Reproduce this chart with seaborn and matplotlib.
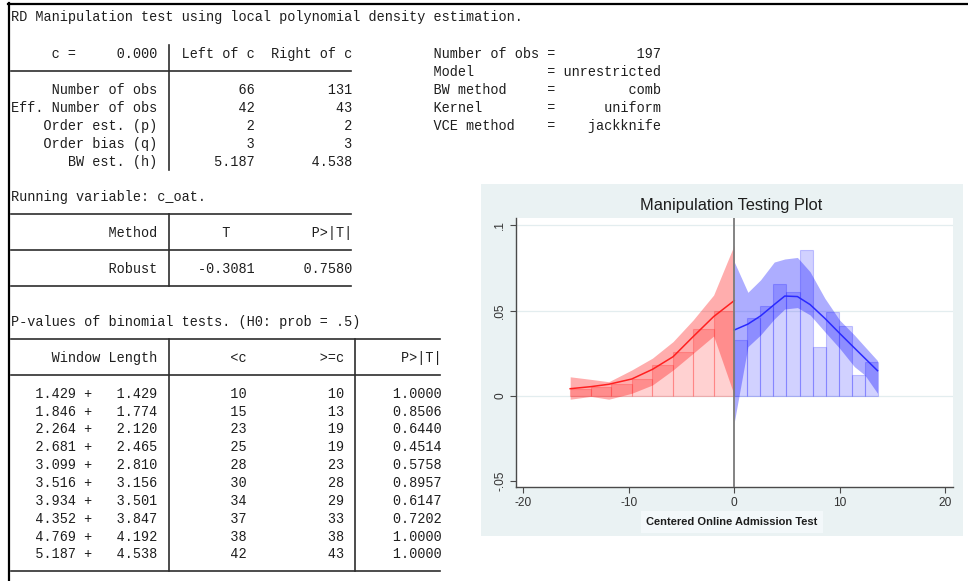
import matplotlib
matplotlib.use("Agg")
import matplotlib.pyplot as plt
from matplotlib.lines import Line2D
from matplotlib.patches import Rectangle
import seaborn as sns

# ---------------- rddensity summary ----------------
cutoff = 0.000
obs_left, obs_right = 66, 131
eff_left, eff_right = 42, 43
order_p = (2, 2)
order_q = (3, 3)
bw_h = (5.187, 4.538)
n_total = 197
model_name = "unrestricted"
bw_method = "comb"
kernel_name = "uniform"
vce_method = "jackknife"
running_var = "c_oat"
robust_T = -0.3081
robust_p = 0.7580

# binomial tests by window
win_left = [1.429, 1.846, 2.264, 2.681, 3.099, 3.516, 3.934, 4.352, 4.769, 5.187]
win_right = [1.429, 1.774, 2.120, 2.465, 2.810, 3.156, 3.501, 3.847, 4.192, 4.538]
n_below = [10, 15, 23, 25, 28, 30, 34, 37, 38, 42]
n_above = [10, 13, 19, 19, 23, 28, 29, 33, 38, 43]
binom_p = [1.0000, 0.8506, 0.6440, 0.4514, 0.5758, 0.8957, 0.6147, 0.7202, 1.0000, 1.0000]

# ---------------- density plot data ----------------
hist_left_edges = [-15.56, -13.61, -11.67, -9.72, -7.78, -5.83, -3.89, -1.94, 0.0]
hist_left_heights = [0.0039, 0.0052, 0.0068, 0.0097, 0.0179, 0.0258, 0.0389, 0.0499]
hist_right_edges = [0.0, 1.24, 2.48, 3.72, 4.96, 6.20, 7.44, 8.68, 9.92, 11.16, 12.40, 13.64]
hist_right_heights = [0.0326, 0.0454, 0.0526, 0.0654, 0.0610, 0.0857, 0.0286,
                      0.0492, 0.0406, 0.0121, 0.0196]

dens_left_x = [-15.56, -13.6, -11.9, -9.72, -7.75, -5.8, -3.9, -1.95, 0.0]
dens_left_f = [0.0040, 0.0052, 0.0066, 0.0097, 0.0154, 0.0228, 0.0346, 0.0464, 0.0558]
dens_left_hi = [0.0110, 0.0095, 0.0081, 0.0150, 0.0220, 0.0317, 0.0444, 0.0591, 0.0885]
dens_left_lo = [-0.0022, -0.0005, -0.0022, 0.0013, 0.0062, 0.0150, 0.0248, 0.0350, 0.0003]

dens_right_x = [0.0, 1.3, 2.5, 3.8, 4.8, 6.0, 7.2, 8.6, 10.0, 11.4, 12.4, 13.6]
dens_right_f = [0.0385, 0.0420, 0.0468, 0.0535, 0.0585, 0.0582, 0.0535, 0.0454,
                0.0366, 0.0280, 0.0219, 0.0146]
dens_right_hi = [0.0787, 0.0607, 0.0680, 0.0785, 0.0803, 0.0812, 0.0728, 0.0572,
                 0.0444, 0.0356, 0.0287, 0.0205]
dens_right_lo = [-0.0160, 0.0287, 0.0356, 0.0450, 0.0509, 0.0517, 0.0474, 0.0375,
                 0.0278, 0.0170, 0.0120, 0.0013]

x_ticks = [-20, -10, 0, 10, 20]
y_ticks = [-0.05, 0.0, 0.05, 0.1]
y_tick_labels = ["-.05", "0", ".05", ".1"]

# ---------------- figure ----------------
W, H = 968, 581
fig = plt.figure(figsize=(W / 100, H / 100), dpi=100)
fig.patch.set_facecolor("white")


def fx(px):
    return px / W


def fy(py):
    return 1 - py / H


MONO = "Liberation Mono"
FS = 9.72          # 8.1 px per character cell
X0, CW = 11.0, 8.1
Y0, DY = 54.0, 17.86
TXT = "#1e1e1e"
RULE = "#2e2e2e"


def row_y(r):
    return Y0 + r * DY


def col_x(c):
    return X0 + c * CW


def put_row(r, items, y=None):
    buf = [" "] * 90
    for col, s, align in items:
        start = col if align == "l" else col - len(s)
        for i, ch in enumerate(s):
            buf[start + i] = ch
    yc = row_y(r) if y is None else y
    fig.text(fx(X0), fy(yc + 4.4), "".join(buf).rstrip(), family=MONO,
             fontsize=FS, color=TXT, ha="left", va="baseline")


def hrule(r, c0, c1):
    y = row_y(r) - 0.5
    fig.add_artist(Line2D([fx(col_x(c0)), fx(col_x(c1))], [fy(y), fy(y)],
                          transform=fig.transFigure, color=RULE, lw=1.2))


def vrule(c, y_top, y_bot):
    x = col_x(c + 0.5)
    fig.add_artist(Line2D([fx(x), fx(x)], [fy(y_top), fy(y_bot)],
                          transform=fig.transFigure, color=RULE, lw=1.2))


# window frame
fig.add_artist(Line2D([fx(8), fx(968)], [fy(3.5), fy(3.5)], transform=fig.transFigure,
                      color="black", lw=1.6))
fig.add_artist(Line2D([fx(8.5), fx(8.5)], [fy(3), fy(581)], transform=fig.transFigure,
                      color="black", lw=1.6))

# heading
put_row(0, [(0, "RD Manipulation test using local polynomial density estimation.", "l")], y=17)

# summary table
put_row(0, [(18, f"{'c =':>8}{cutoff:10.3f}", "r"), (21, "Left of c", "l"),
            (42, "Right of c", "r"), (52, "Number of obs =", "l"), (80, str(n_total), "r")])
put_row(1, [(52, "Model", "l"), (66, "=", "l"), (80, model_name, "r")])
put_row(2, [(18, "Number of obs", "r"), (30, str(obs_left), "r"), (42, str(obs_right), "r"),
            (52, "BW method", "l"), (66, "=", "l"), (80, bw_method, "r")])
put_row(3, [(18, "Eff. Number of obs", "r"), (30, str(eff_left), "r"), (42, str(eff_right), "r"),
            (52, "Kernel", "l"), (66, "=", "l"), (80, kernel_name, "r")])
put_row(4, [(18, "Order est. (p)", "r"), (30, str(order_p[0]), "r"), (42, str(order_p[1]), "r"),
            (52, "VCE method", "l"), (66, "=", "l"), (80, vce_method, "r")])
put_row(5, [(18, "Order bias (q)", "r"), (30, str(order_q[0]), "r"), (42, str(order_q[1]), "r")])
put_row(6, [(18, "BW est. (h)", "r"), (30, f"{bw_h[0]:.3f}", "r"), (42, f"{bw_h[1]:.3f}", "r")])
hrule(1, 0, 42)
vrule(19, row_y(0) - DY / 2, row_y(6) + DY / 2)

# test statistic table
put_row(8, [(0, f"Running variable: {running_var}.", "l")])
put_row(10, [(18, "Method", "r"), (26, "T", "l"), (42, "P>|T|", "r")])
put_row(12, [(18, "Robust", "r"), (30, f"{robust_T:.4f}", "r"), (42, f"{robust_p:.4f}", "r")])
for r in (9, 11, 13):
    hrule(r, 0, 42)
vrule(19, row_y(9) - 0.5, row_y(13) - 0.5)

# binomial tests table
put_row(15, [(0, "P-values of binomial tests. (H0: prob = .5)", "l")])
put_row(17, [(18, "Window Length", "r"), (27, "<c", "l"), (41, ">=c", "r"), (53, "P>|T|", "r")])
for i in range(len(win_left)):
    put_row(19 + i, [(3, f"{win_left[i]:.3f} +", "l"), (18, f"{win_right[i]:.3f}", "r"),
                     (29, str(n_below[i]), "r"), (41, str(n_above[i]), "r"),
                     (53, f"{binom_p[i]:.4f}", "r")])
for r in (16, 18, 29):
    hrule(r, 0, 53)
vrule(19, row_y(16) - 0.5, row_y(29) - 0.5)
vrule(42, row_y(16) - 0.5, row_y(29) - 0.5)

# ---------------- manipulation testing plot ----------------
fig.add_artist(Rectangle((fx(481), fy(536)), (963 - 481) / W, (536 - 184) / H,
                         transform=fig.transFigure, facecolor="#EAF2F3",
                         edgecolor="none", zorder=0))

ax = fig.add_axes([fx(516), fy(487), (953 - 516) / W, (487 - 218) / H])
ax.set_facecolor("white")
ax.set_zorder(1)

for yv in (0.0, 0.05, 0.1):
    ax.axhline(yv, color="#E3EDEF", lw=0.9, zorder=0.5)

left_centers = [(a + b) / 2 for a, b in zip(hist_left_edges[:-1], hist_left_edges[1:])]
right_centers = [(a + b) / 2 for a, b in zip(hist_right_edges[:-1], hist_right_edges[1:])]

sns.histplot(x=left_centers, weights=hist_left_heights, bins=hist_left_edges, stat="count",
             facecolor=(1, 0, 0, 0.18), edgecolor=(1, 0, 0, 0.20), linewidth=0.8,
             ax=ax, zorder=1)
sns.histplot(x=right_centers, weights=hist_right_heights, bins=hist_right_edges, stat="count",
             facecolor=(0, 0, 1, 0.18), edgecolor=(0, 0, 1, 0.20), linewidth=0.8,
             ax=ax, zorder=1)

ax.fill_between(dens_left_x, dens_left_lo, dens_left_hi, color=(1, 0, 0, 0.32),
                lw=0, zorder=2)
ax.fill_between(dens_right_x, dens_right_lo, dens_right_hi, color=(0, 0, 1, 0.32),
                lw=0, zorder=2)

sns.lineplot(x=dens_left_x, y=dens_left_f, color="#ff2020", lw=1.1, ax=ax, zorder=3)
sns.lineplot(x=dens_right_x, y=dens_right_f, color="#2a2aff", lw=1.1, ax=ax, zorder=3)

ax.axvline(cutoff, color="#7a7a7a", lw=1.3, zorder=5)

ax.set_xlim(-20.70, 20.76)
ax.set_ylim(-0.05382, 0.10441)
ax.set_xticks(x_ticks)
ax.set_xticklabels([str(t) for t in x_ticks])
ax.set_yticks(y_ticks)
ax.set_yticklabels(y_tick_labels)
for lbl in ax.get_yticklabels():
    lbl.set_rotation(90)
    lbl.set_va("center")
ax.set_xlabel("")
ax.set_ylabel("")

for side in ("top", "right"):
    ax.spines[side].set_visible(False)
for side in ("left", "bottom"):
    ax.spines[side].set_color("#4a4a4a")
    ax.spines[side].set_linewidth(1.0)
ax.tick_params(axis="both", direction="out", length=4, width=0.8, color="#4a4a4a",
               labelsize=8.6, labelcolor="#333333")
ax.tick_params(axis="x", pad=3)
ax.tick_params(axis="y", pad=3)
for lbl in ax.get_xticklabels() + ax.get_yticklabels():
    lbl.set_family("Liberation Sans")

fig.text(fx(731), fy(206), "Manipulation Testing Plot", ha="center", va="center",
         fontsize=11.8, family="Liberation Sans", color="#1e1e1e")
fig.text(fx(732), fy(522), "Centered Online Admission Test", ha="center", va="center",
         fontsize=8, fontweight="bold", family="Liberation Sans", color="#1e1e1e",
         bbox=dict(boxstyle="square,pad=0.5", fc="#F3F8FA", ec="none"))

fig.savefig("out.png", dpi=100)
